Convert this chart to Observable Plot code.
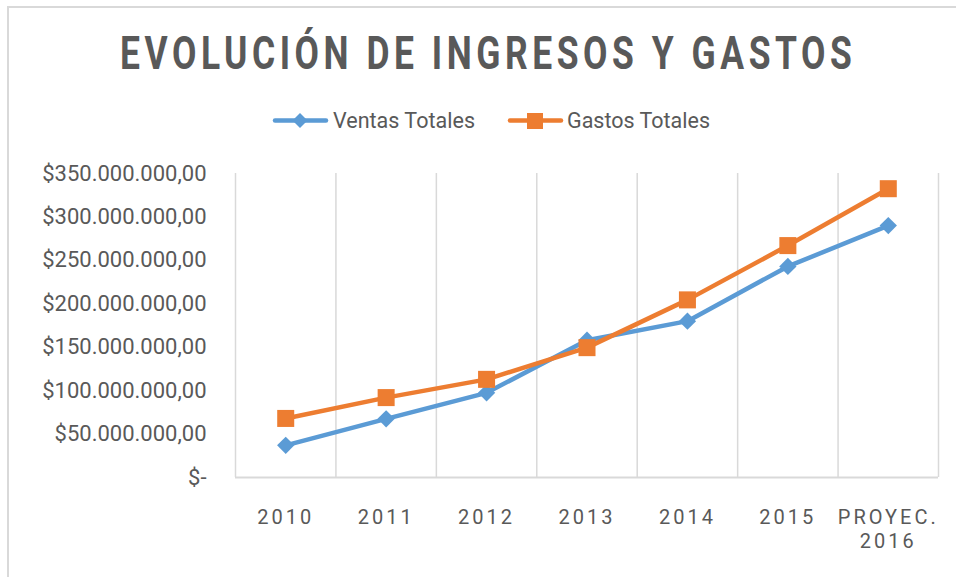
<!DOCTYPE html>
<html>
<head>
<meta charset="utf-8">
<script src="https://cdn.jsdelivr.net/npm/d3@7"></script>
<script src="https://cdn.jsdelivr.net/npm/@observablehq/plot@0.6"></script>
<style>
  html, body { margin: 0; padding: 0; background: #fff; }
  #wrap { position: relative; width: 956px; height: 577px; overflow: hidden; background: #fff; }
  #frame { position: absolute; left: 7px; top: 6px; width: 1000px; height: 700px; border-left: 2px solid #d9d9d9; border-top: 2px solid #d9d9d9; box-sizing: border-box; }
  #header { position: absolute; left: 0; top: 0; }
  #chart { position: absolute; left: 0; top: 0; }
</style>
</head>
<body>
<div id="wrap">
  <div id="frame"></div>
  <div id="chart"></div>
  <svg id="header" width="956" height="150" font-family="Roboto, sans-serif" fill="#595959">
    <text id="title" x="0" y="69" font-size="47" font-weight="bold" letter-spacing="6">EVOLUCIÓN DE INGRESOS Y GASTOS</text>
    <g id="legend"></g>
  </svg>
</div>
<script>
// ---- data ----
const categories = ["2010", "2011", "2012", "2013", "2014", "2015", "PROYEC.\n2016"];
const ventasTotales = [37e6, 67.5e6, 97.5e6, 158e6, 180e6, 243e6, 290e6];
const gastosTotales = [68e6, 92e6, 113e6, 149.5e6, 204.5e6, 267e6, 332.5e6];
const seriesNames = ["Ventas Totales", "Gastos Totales"];
const yTicks = [0, 50e6, 100e6, 150e6, 200e6, 250e6, 300e6, 350e6];

const colorVentas = "#5B9BD5";
const colorGastos = "#ED7D31";

const ventasRows = categories.map((c, i) => ({i, cat: c, value: ventasTotales[i]}));
const gastosRows = categories.map((c, i) => ({i, cat: c, value: gastosTotales[i]}));
const edges = d3.range(categories.length + 1).map(k => k - 0.5);

function fmtMoney(v) {
  if (v === 0) return "$-";
  const s = Math.round(v).toString().replace(/\B(?=(\d{3})+(?!\d))/g, ".");
  return "$" + s + ",00";
}

const chart = Plot.plot({
  width: 956,
  height: 577,
  marginTop: 173,
  marginBottom: 100,
  marginLeft: 235,
  marginRight: 18,
  style: { fontFamily: "Roboto, sans-serif", color: "#595959", background: "transparent", overflow: "visible" },
  x: { type: "linear", domain: [-0.5, categories.length - 0.5] },
  y: { domain: [0, 350e6] },
  marks: [
    Plot.ruleX(edges, { stroke: "#d9d9d9", strokeWidth: 1.5, strokeOpacity: 1 }),
    Plot.ruleY([0], { stroke: "#d9d9d9", strokeWidth: 2 }),
    Plot.axisY({ ticks: yTicks, tickSize: 0, tickPadding: 29, tickFormat: fmtMoney, fontSize: 22, label: null, fill: "#595959" }),
    Plot.axisX({ ticks: d3.range(categories.length), tickSize: 0, tickPadding: 29, tickFormat: i => categories[i], fontSize: 20, lineHeight: 1.2, label: null, fill: "#595959", lineAnchor: "top" }),
    Plot.line(ventasRows, { x: "i", y: "value", stroke: colorVentas, strokeWidth: 4.5, strokeLinejoin: "round", strokeLinecap: "round" }),
    Plot.line(gastosRows, { x: "i", y: "value", stroke: colorGastos, strokeWidth: 4.5, strokeLinejoin: "round", strokeLinecap: "round" }),
    Plot.dot(ventasRows, { x: "i", y: "value", symbol: "diamond2", fill: colorVentas, r: 7.8, stroke: "none" }),
    Plot.dot(gastosRows, { x: "i", y: "value", symbol: "square", fill: colorGastos, r: 9.6, stroke: "none" })
  ]
});
chart.querySelectorAll("g[aria-label='x-axis tick label'] text").forEach(t => t.setAttribute("letter-spacing", "3"));
document.getElementById("chart").appendChild(chart);

// title: condense horizontally to the reference's width
const title = document.getElementById("title");
const tw = title.getBBox().width - 6; // drop trailing letter-spacing
const sx = 732 / tw;
title.setAttribute("transform", `translate(120,0) scale(${sx},1)`);

// legend
const ns = "http://www.w3.org/2000/svg";
const lg = document.getElementById("legend");
const legendItems = [
  { name: seriesNames[0], color: colorVentas, x0: 273, tx: 333, tw: 142, sym: "diamond" },
  { name: seriesNames[1], color: colorGastos, x0: 508, tx: 567, tw: 143, sym: "square" }
];
legendItems.forEach(it => {
  const line = document.createElementNS(ns, "line");
  line.setAttribute("x1", it.x0 + 2); line.setAttribute("x2", it.x0 + 53);
  line.setAttribute("y1", 120.5); line.setAttribute("y2", 120.5);
  line.setAttribute("stroke", it.color); line.setAttribute("stroke-width", 4.5); line.setAttribute("stroke-linecap", "round");
  lg.appendChild(line);
  const cx = it.x0 + 27;
  let s;
  if (it.sym === "diamond") {
    s = document.createElementNS(ns, "path");
    s.setAttribute("d", `M${cx},113 L${cx + 7.5},120.5 L${cx},128 L${cx - 7.5},120.5 Z`);
  } else {
    s = document.createElementNS(ns, "rect");
    s.setAttribute("x", cx - 8); s.setAttribute("y", 113); s.setAttribute("width", 16); s.setAttribute("height", 16);
  }
  s.setAttribute("fill", it.color);
  lg.appendChild(s);
  const t = document.createElementNS(ns, "text");
  t.setAttribute("x", it.tx); t.setAttribute("y", 128);
  t.setAttribute("font-size", 22);
  t.setAttribute("textLength", it.tw); t.setAttribute("lengthAdjust", "spacingAndGlyphs");
  t.textContent = it.name;
  lg.appendChild(t);
});
</script>
</body>
</html>
